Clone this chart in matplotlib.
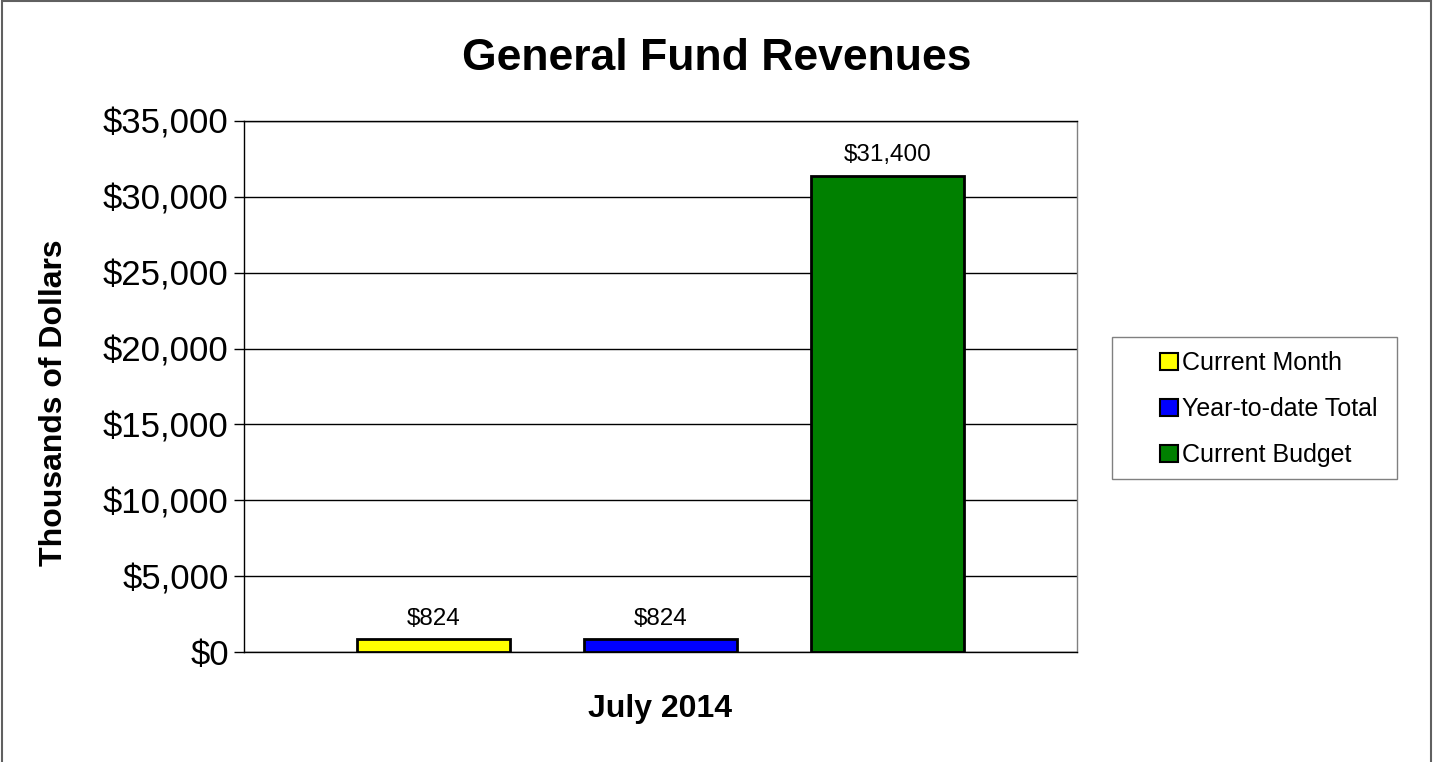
import matplotlib
matplotlib.use("Agg")
import matplotlib.pyplot as plt
from matplotlib.patches import Patch, Rectangle
from matplotlib.ticker import FuncFormatter, MultipleLocator

plt.rcParams['font.family'] = ['Liberation Sans', 'DejaVu Sans']

# Data
series = ["Current Month", "Year-to-date Total", "Current Budget"]
values = [824, 824, 31400]
colors = ["#FFFF00", "#0000FF", "#008000"]
category = "July 2014"

W, H = 1433, 762
fig = plt.figure(figsize=(W / 100, H / 100), dpi=100)

# Plot area in pixel coordinates
left, right, top, bottom = 244, 1077, 121, 652
ax = fig.add_axes([left / W, 1 - bottom / H, (right - left) / W, (bottom - top) / H])

x = [-1, 0, 1]
bw = 153 / 227
bars = ax.bar(x, values, width=bw, color=colors, edgecolor="black", linewidth=2, zorder=3)
for b, v in zip(bars, values):
    ax.annotate(f"${v:,}", (b.get_x() + b.get_width() / 2, v), xytext=(0, 7),
                textcoords="offset points", ha="center", va="bottom", fontsize=17.5)

half = (right - left) / 2 / 227
ax.set_xlim(-half, half)
ax.set_ylim(0, 35000)
ax.yaxis.set_major_locator(MultipleLocator(5000))
ax.yaxis.set_major_formatter(FuncFormatter(lambda v, p: f"${v:,.0f}"))
ax.grid(axis="y", color="black", linewidth=1, zorder=0)
ax.set_xticks([])
ax.tick_params(axis="y", labelsize=25, length=7, width=1, pad=4)
for s in ax.spines.values():
    s.set_linewidth(1)
    s.set_color("black")
ax.spines["right"].set_color("#808080")

ax.set_ylabel("Thousands of Dollars", fontsize=23, fontweight="bold")
ax.yaxis.set_label_coords((54 - left) / (right - left), (bottom - 403) / (bottom - top))
ax.set_xlabel(category, fontsize=23, fontweight="bold")
ax.xaxis.set_label_coords(0.5, (bottom - 709) / (bottom - top))
ax.xaxis.label.set_va("center")
ax.yaxis.label.set_va("center")

fig.text(717 / W, 1 - 58 / H, "General Fund Revenues", ha="center", va="center",
         fontsize=32, fontweight="bold")

# Legend entries, with a separate box around them
handles = [Patch(facecolor=c, edgecolor="black", linewidth=1.5) for c in colors]
leg = fig.legend(handles, series, loc="center left", bbox_to_anchor=(1160 / W, 1 - 409 / H),
                 fontsize=18, frameon=False,
                 handlelength=0.7, handleheight=0.7, handletextpad=0.2,
                 labelspacing=0.88, borderpad=0, borderaxespad=0)
fig.patches.append(Rectangle((1112 / W, 1 - 479 / H), (1397 - 1112) / W, (479 - 337) / H,
                             transform=fig.transFigure, fill=False,
                             edgecolor="#808080", linewidth=1))

# Outer chart border
fig.patches.append(Rectangle((2 / W, -0.01), (1431 - 2) / W, 1.01 - 1 / H, transform=fig.transFigure,
                             fill=False, edgecolor="#606060", linewidth=1.5))

fig.savefig("out.png", dpi=100)
